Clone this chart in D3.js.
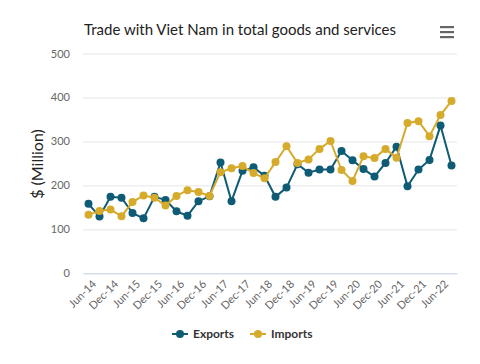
<!DOCTYPE html>
<html><head><meta charset="utf-8">
<script src="https://cdn.jsdelivr.net/npm/d3@7"></script>
<style>html,body{margin:0;padding:0;background:#fff;}svg{display:block;}</style>
</head><body><div id="chart"></div>
<script>
const categories = ["Jun-14","Sep-14","Dec-14","Mar-15","Jun-15","Sep-15","Dec-15","Mar-16","Jun-16","Sep-16","Dec-16","Mar-17","Jun-17","Sep-17","Dec-17","Mar-18","Jun-18","Sep-18","Dec-18","Mar-19","Jun-19","Sep-19","Dec-19","Mar-20","Jun-20","Sep-20","Dec-20","Mar-21","Jun-21","Sep-21","Dec-21","Mar-22","Jun-22","Sep-22"];
const exportsData = [158,129,174,172,137,125,174,167,141,131,164,175,252,164,233,241,222,174,195,248,229,236,236,278,257,237,220,251,288,198,236,258,336,245];
const importsData = [133,142,145,130,162,177,172,154,176,189,185,176,230,239,244,228,216,253,289,251,259,283,301,235,210,266,262,283,263,342,346,312,360,392];
const yTicks = [0,100,200,300,400,500];
const seriesNames = ["Exports","Imports"];
const colors = ["#0d5b74","#d6ab2c"];

const W=480,H=364;
const m={l:83,r:23,t:53.5,b:91};
const svg=d3.select("#chart").append("svg").attr("width",W).attr("height",H);
const font="'Source Sans Pro','Lato','Noto Sans',sans-serif";
const x=d3.scaleBand().domain(categories).range([m.l,W-m.r]);
const y=d3.scaleLinear().domain([0,500]).range([H-m.b+0.3,m.t]);

svg.append("text").attr("x",240).attr("y",35).attr("text-anchor","middle")
  .style("font-family",font).style("font-size","15px").attr("fill","#222")
  .text("Trade with Viet Nam in total goods and services");

// hamburger
[0,5,10].forEach(d=>svg.append("rect").attr("x",440).attr("y",26+d).attr("width",14).attr("height",2.2).attr("fill","#666"));

// grid
const gy=svg.append("g").attr("transform",`translate(${m.l},0)`)
  .call(d3.axisLeft(y).tickValues(yTicks).tickSize(-(W-m.l-m.r)).tickPadding(13));
gy.select(".domain").remove();
gy.selectAll(".tick line").attr("stroke","#e6e6e6");
gy.selectAll(".tick text").attr("fill","#666").style("font-family",font).style("font-size","11px");

// x axis
const gx=svg.append("g").attr("transform",`translate(0,${y(0)})`)
  .call(d3.axisBottom(x).tickValues(categories.filter((c,i)=>i%2===0)).tickSize(0).tickPadding(8));
gx.select(".domain").attr("stroke","#ccd6eb");
gx.selectAll(".tick text").attr("fill","#666").style("font-family",font).style("font-size","11px")
  .attr("text-anchor","end").attr("transform","rotate(-45)").attr("dx","-2").attr("dy","6");

// y label
svg.append("text").attr("transform","translate(43,164) rotate(-90)").attr("text-anchor","middle")
  .style("font-family",font).style("font-size","16px").attr("fill","#222").text("$ (Million)");

const cx=c=>x(c)+x.bandwidth()/2;
[exportsData,importsData].forEach((data,si)=>{
  const line=d3.line().x((d,i)=>cx(categories[i])).y(d=>y(d));
  svg.append("path").datum(data).attr("d",line).attr("fill","none").attr("stroke",colors[si]).attr("stroke-width",2);
  svg.append("g").selectAll("circle").data(data).join("circle")
    .attr("cx",(d,i)=>cx(categories[i])).attr("cy",d=>y(d)).attr("r",4).attr("fill",colors[si]);
});

// legend
const lg=svg.append("g");
const lx=[172,250];
seriesNames.forEach((n,i)=>{
  lg.append("line").attr("x1",lx[i]).attr("x2",lx[i]+16).attr("y1",334).attr("y2",334).attr("stroke",colors[i]).attr("stroke-width",2);
  lg.append("circle").attr("cx",lx[i]+8).attr("cy",334).attr("r",4).attr("fill",colors[i]);
  lg.append("text").attr("x",lx[i]+21).attr("y",338).style("font-family",font).style("font-size","12px")
    .style("font-weight","bold").attr("fill","#333").text(n);
});
</script></body></html>
